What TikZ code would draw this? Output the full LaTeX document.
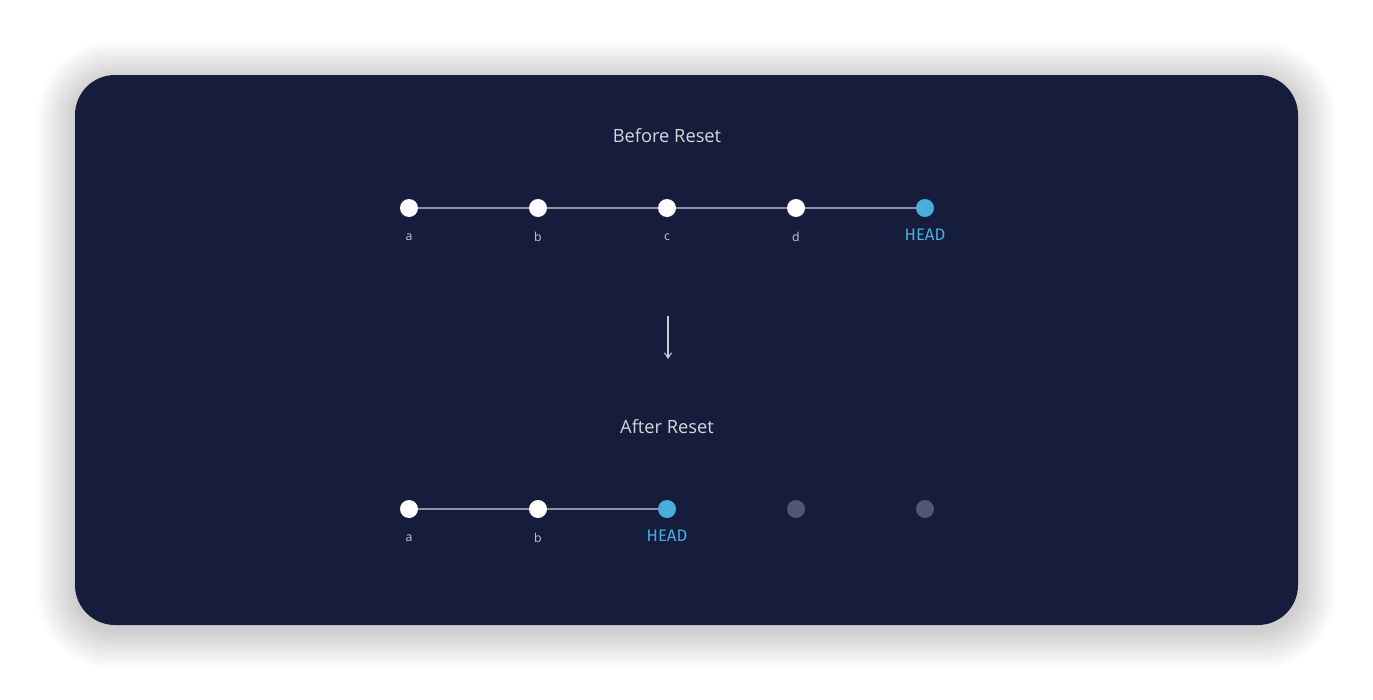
\documentclass[tikz,border=0pt]{standalone}
\usepackage{fontspec}
\usetikzlibrary{arrows.meta}
\setmainfont{Open Sans}
\newfontfamily\headfont{Fira Sans}
\begin{document}
\begin{tikzpicture}[x=0.02cm,y=-0.02cm,
  card/.style={fill=cardbg,rounded corners=0.8cm},
  commit/.style={circle,fill=white,minimum size=0.36cm,inner sep=0pt},
  headcommit/.style={circle,fill=headblue,minimum size=0.36cm,inner sep=0pt},
  ghost/.style={circle,fill=ghostgray,minimum size=0.36cm,inner sep=0pt},
  link/.style={draw=linegray,line width=0.9pt},
  lbl/.style={text=lblgray,font=\fontsize{7}{8}\selectfont,inner sep=0pt},
  headlbl/.style={text=headblue,font=\headfont\fontsize{9.5}{11}\selectfont,inner sep=0pt},
  title/.style={text=titlegray,font=\fontsize{10.4}{12}\selectfont,inner sep=0pt}]
\definecolor{cardbg}{HTML}{161C3B}
\definecolor{headblue}{HTML}{4AAEDD}
\definecolor{ghostgray}{HTML}{52566E}
\definecolor{linegray}{HTML}{8E91A3}
\definecolor{lblgray}{HTML}{C8CAD4}
\definecolor{titlegray}{HTML}{D4D6DE}
\useasboundingbox[fill=white] (0,0) rectangle (1373,700);
% shadow
\foreach \i in {1,...,24}{
  \fill[black,opacity=0.008,rounded corners={(0.8+0.03*\i)*1cm}]
    (75-1.6*\i,80-1.6*\i) rectangle (1298+1.6*\i,630+1.6*\i);
}
\fill[card] (75,75) rectangle (1298,625);
% titles
\node[title] (t1) at (667,136) {Before Reset};
\node[title] (t2) at (667,427) {After Reset};
% before row
\node[commit] (a1) at (409,208) {};
\node[commit] (b1) at (538,208) {};
\node[commit] (c1) at (667,208) {};
\node[commit] (d1) at (796,208) {};
\node[headcommit] (h1) at (925,208) {};
\draw[link] (a1) -- (b1) -- (c1) -- (d1) -- (h1);
\node[lbl] (la1) at (409,237) {a};
\node[lbl] (lb1) at (538,237) {b};
\node[lbl] (lc1) at (667,237) {c};
\node[lbl] (ld1) at (796,237) {d};
\node[headlbl] (lh1) at (925,235) {HEAD};
% arrow
\coordinate (ar1) at (668,316);
\coordinate (ar2) at (668,359);
\draw[draw=lblgray,line width=0.6pt,-{Straight Barb[length=3pt,width=4pt]}] (ar1) -- (ar2);
% after row
\node[commit] (a2) at (409,509) {};
\node[commit] (b2) at (538,509) {};
\node[headcommit] (h2) at (667,509) {};
\node[ghost] (g1) at (796,509) {};
\node[ghost] (g2) at (925,509) {};
\draw[link] (a2) -- (b2) -- (h2);
\node[lbl] (la2) at (409,538) {a};
\node[lbl] (lb2) at (538,538) {b};
\node[headlbl] (lh2) at (667,536) {HEAD};
\end{tikzpicture}
\end{document}
